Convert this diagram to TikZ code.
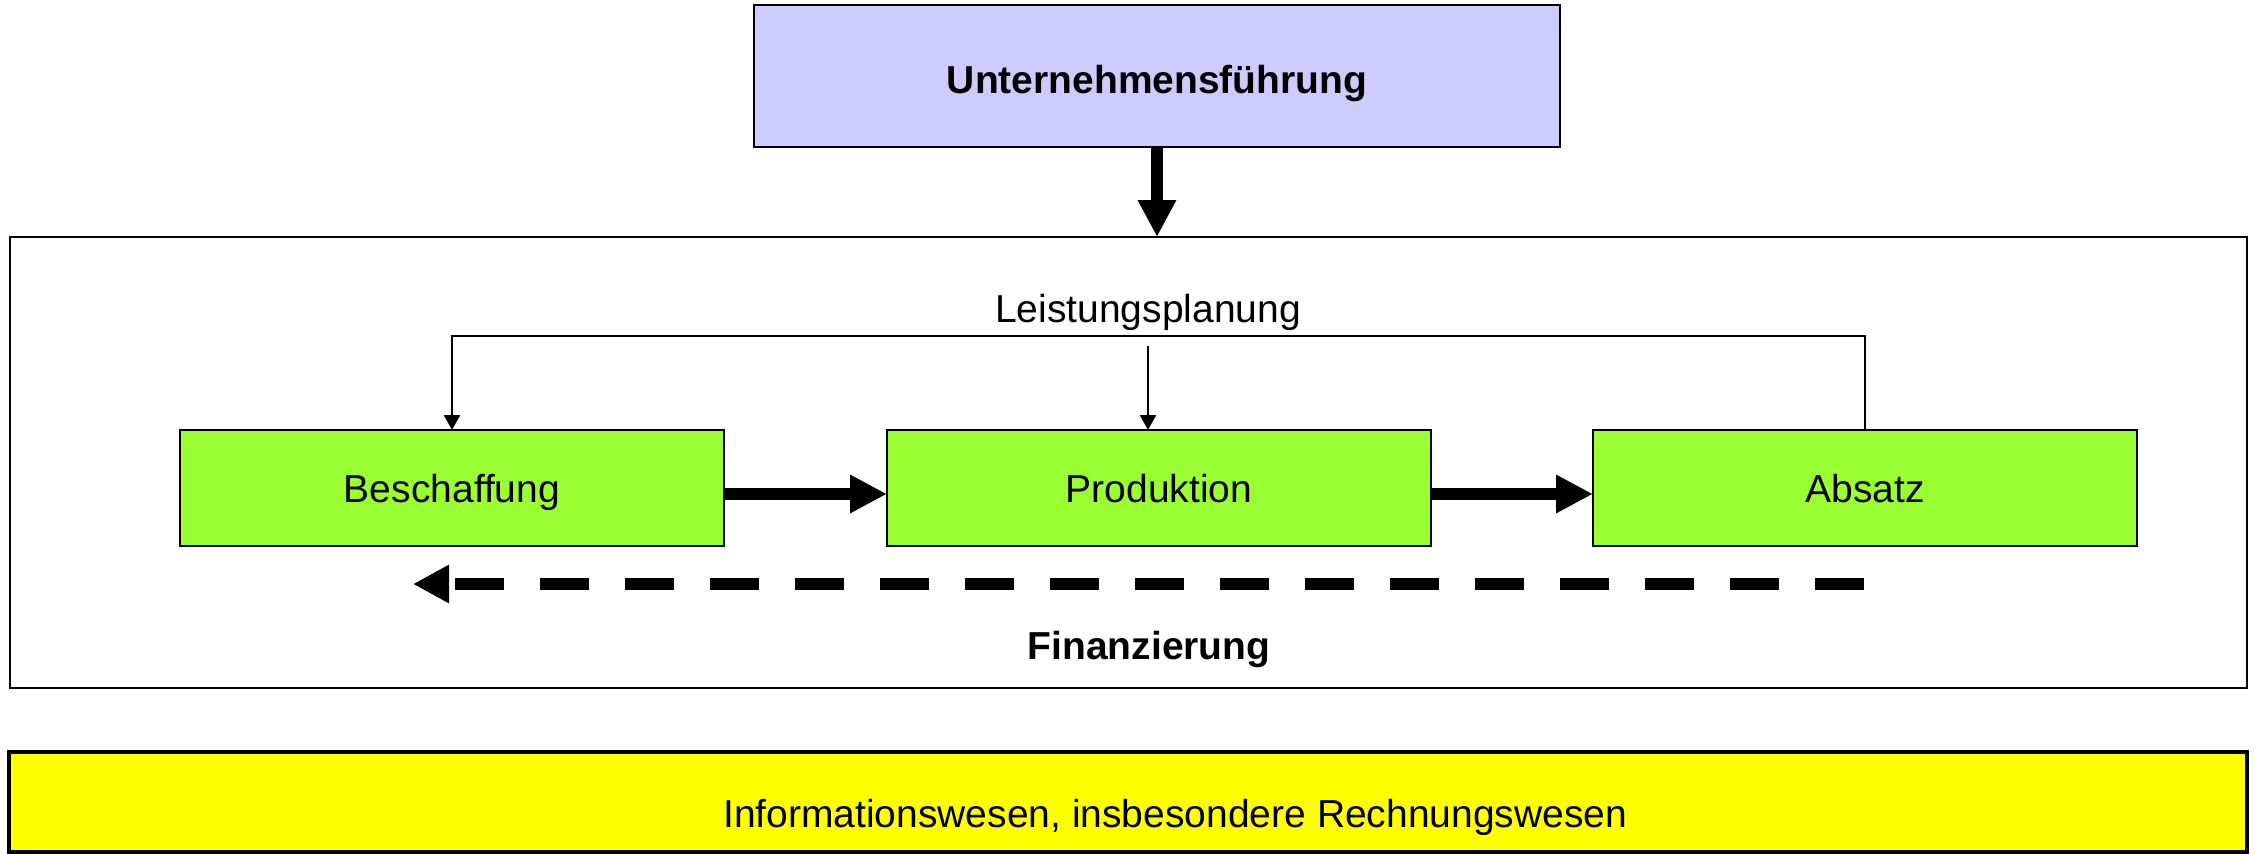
\documentclass[tikz,border=0pt]{standalone}
\usepackage{fontspec}
\setmainfont{Liberation Sans}
\usetikzlibrary{arrows.meta,positioning}
\definecolor{lilac}{HTML}{CCCCFF}
\definecolor{leaf}{HTML}{99FF33}
\definecolor{lemon}{HTML}{FFFF00}
\tikzstyle{unit}=[draw,line width=2pt,fill=leaf,outer sep=0pt,inner sep=0pt,minimum width=544pt,minimum height=116pt,text height=28.5pt,text depth=0pt]
\tikzstyle{flow}=[line width=12pt,-{Triangle[length=37pt,width=36pt]}]
\tikzstyle{plan}=[line width=2.5pt,-{Triangle[length=15pt,width=16pt]}]
\tikzstyle{money}=[line width=12pt,dash pattern=on 49pt off 36pt,-{Triangle[length=36pt,width=36pt]}]

\begin{document}
\begin{tikzpicture}[x=1pt,y=-1pt,font=\fontsize{39}{47}\selectfont]
            \useasboundingbox (0,0) rectangle (2257,854);
            % management on top
            \node[draw,line width=2.5pt,fill=lilac,outer sep=0pt,inner sep=0pt,minimum width=806pt,minimum height=142pt,text height=34pt,text depth=0pt] (lead) at (1157,76) {\bfseries Unternehmensführung};
            \node[draw,line width=2pt,outer sep=0pt,minimum width=2237pt,minimum height=451pt] (frame) at (1128.5,462.5) {};
            \draw[flow] (lead.south) -- (lead.south |- frame.north);
            % the three functions
            \node[unit] (beschaffung) at (452,488) {Beschaffung};
            \node[unit,right=163pt of beschaffung] (produktion) {Produktion};
            \node[unit,right=162pt of produktion] (absatz) {Absatz};
            \draw[flow] ([yshift=-6pt]beschaffung.east) -- ([yshift=-6pt]produktion.west);
            \draw[flow] ([yshift=-6pt]produktion.east) -- ([yshift=-6pt]absatz.west);
            % planning loop
            \node[anchor=base,inner sep=0pt] (leistung) at (1148,322.7) {Leistungsplanung};
            \draw[plan] (absatz.north) -- ++(0,-94) -| (beschaffung.north);
            \draw[plan] ([yshift=-23.3pt]leistung.base) -- (leistung.base |- produktion.north);
            % money flows back
            \coordinate (cashstart) at (1864,584);
            \coordinate (cashend) at (413,584);
            \draw[money] (cashstart) -- (cashend);
            \node[anchor=base,inner sep=0pt] (finanz) at (1149,659.5) {\bfseries Finanzierung};
            % information below
            \node[draw,line width=4pt,fill=lemon,outer sep=0pt,minimum width=2237.5pt,minimum height=99.5pt] (info) at (1128,802) {};
            \node[anchor=base west,inner sep=0pt] (infotext) at (723,827) {Informationswesen, insbesondere Rechnungswesen};
        \end{tikzpicture}
\end{document}
